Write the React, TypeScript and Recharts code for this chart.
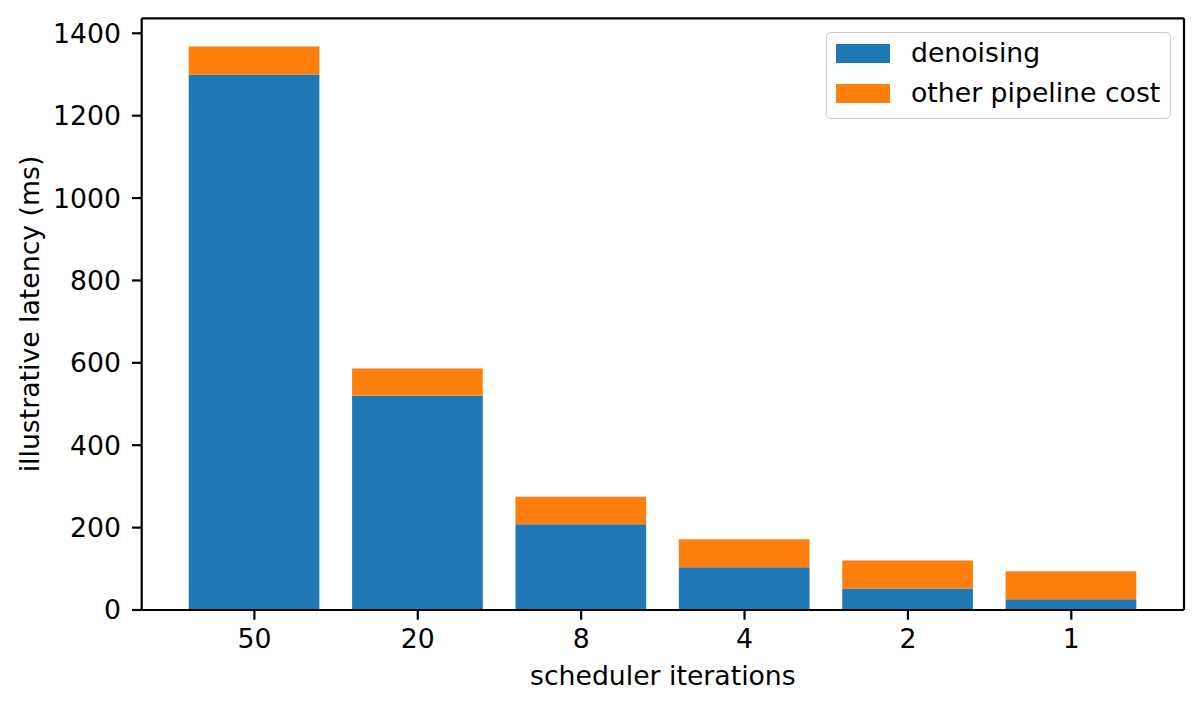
import { Bar, BarChart, Label, Legend, XAxis, YAxis } from 'recharts'

const iterations = ['50', '20', '8', '4', '2', '1']
const denoising = [1300, 520, 208, 104, 52, 26]
const otherCost = [68, 66, 67, 68, 68, 68]
const yTicks = [0, 200, 400, 600, 800, 1000, 1200, 1400]
const Y_MAX = 1436.4

const BLUE = '#1f77b4'
const ORANGE = '#ff7f0e'
const FONT = 'DejaVu Sans, sans-serif'
const FS = 26.7

const data = iterations.map((it, i) => ({
  iter: it,
  denoising: denoising[i],
  other: otherCost[i],
}))

const legendItems = [
  { name: 'denoising', color: BLUE },
  { name: 'other pipeline cost', color: ORANGE },
]

function LegendBox() {
  return (
    <div
      style={{
        boxSizing: 'border-box',
        width: 345,
        height: 87,
        border: '1.5px solid #cccccc',
        borderRadius: 5,
        background: 'rgba(255,255,255,0.8)',
        position: 'relative',
        fontFamily: FONT,
        fontSize: FS,
      }}
    >
      {legendItems.map((item, i) => (
        <div key={item.name}>
          <div
            style={{
              position: 'absolute',
              left: 9,
              top: 11 + i * 40,
              width: 54,
              height: 19,
              background: item.color,
            }}
          />
          <div
            style={{
              position: 'absolute',
              left: 84,
              top: 3 + i * 40,
              lineHeight: '34px',
              whiteSpace: 'nowrap',
              color: '#000',
            }}
          >
            {item.name}
          </div>
        </div>
      ))}
    </div>
  )
}

export default function App() {
  const tickStyle = { fontFamily: FONT, fontSize: FS, fill: '#000' }
  const line = { stroke: '#000', strokeWidth: 2.2 }
  return (
    <div style={{ position: 'absolute', left: 0, top: 0, background: '#fff' }}>
      <BarChart
        width={1202}
        height={711}
        data={data}
        margin={{ top: 17.3, right: 17, left: 0, bottom: 0 }}
        barSize={130.7}
      >
        <XAxis
          dataKey="iter"
          height={101}
          padding={{ left: 31, right: 31 }}
          tick={tickStyle}
          tickSize={9.7}
          tickMargin={9.6}
          axisLine={line}
          tickLine={line}
          interval={0}
        >
          <Label
            content={({ viewBox }: any) => (
              <text
                x={viewBox.x + viewBox.width / 2}
                y={685}
                textAnchor="middle"
                style={{ fontFamily: FONT, fontSize: FS }}
                fill="#000"
              >
                scheduler iterations
              </text>
            )}
          />
        </XAxis>
        <XAxis
          xAxisId="top"
          dataKey="iter"
          orientation="top"
          height={1}
          padding={{ left: 31, right: 31 }}
          tick={false}
          tickLine={false}
          axisLine={line}
        />
        <YAxis
          width={141.7}
          domain={[0, Y_MAX]}
          ticks={yTicks}
          interval={0}
          tick={tickStyle}
          tickSize={9.7}
          tickMargin={11}
          axisLine={line}
          tickLine={line}
          allowDataOverflow
        >
          <Label
            content={() => (
              <text
                x={38.5}
                y={314}
                transform="rotate(-90 38.5 314)"
                textAnchor="middle"
                style={{ fontFamily: FONT, fontSize: FS }}
                fill="#000"
              >
                illustrative latency (ms)
              </text>
            )}
          />
        </YAxis>
        <YAxis
          yAxisId="right"
          orientation="right"
          width={1}
          domain={[0, Y_MAX]}
          tick={false}
          tickLine={false}
          axisLine={line}
        />
        <Legend
          layout="horizontal"
          verticalAlign="middle"
          align="center"
          content={() => <LegendBox />}
          wrapperStyle={{ left: 826, top: 32, width: 345, height: 87 }}
        />
        <Bar dataKey="denoising" stackId="a" fill={BLUE} isAnimationActive={false} />
        <Bar dataKey="other" stackId="a" fill={ORANGE} isAnimationActive={false} />
      </BarChart>
    </div>
  )
}
